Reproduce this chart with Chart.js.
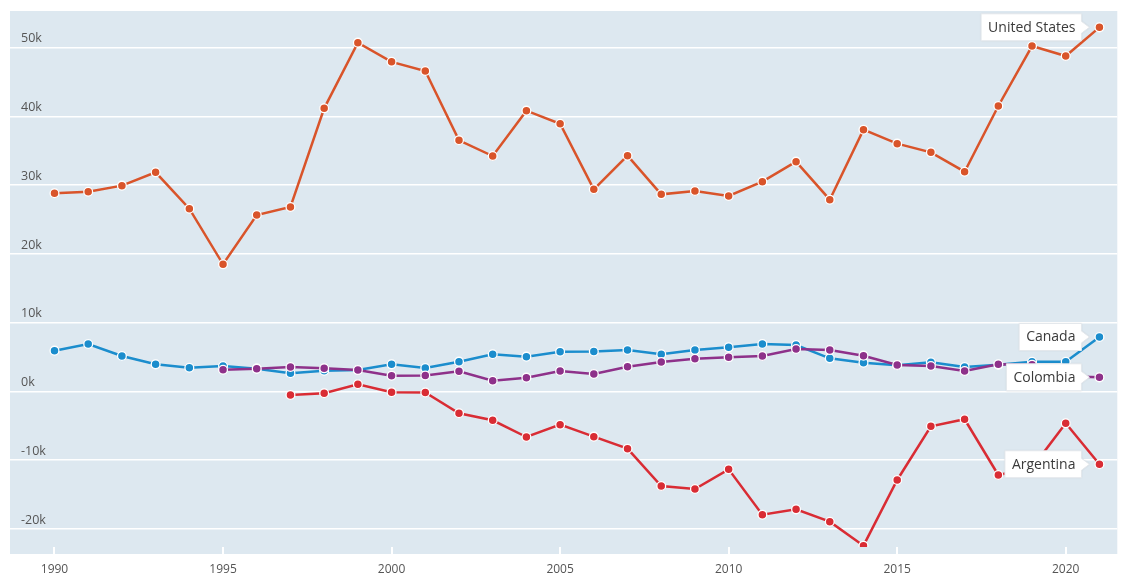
<!DOCTYPE html>
<html lang="en">
<head>
<meta charset="UTF-8">
<title>Net flows</title>
<script src="https://cdn.jsdelivr.net/npm/chart.js"></script>
<style>
  body { margin: 0; background: #fff; }
  #wrap { width: 1123px; height: 577px; position: relative; }
</style>
</head>
<body>
<div id="wrap"><canvas id="chart"></canvas></div>
<script>
// data
const years = [1990,1991,1992,1993,1994,1995,1996,1997,1998,1999,2000,2001,2002,2003,2004,2005,
               2006,2007,2008,2009,2010,2011,2012,2013,2014,2015,2016,2017,2018,2019,2020,2021];
const unitedStates = [28830,29060,29940,31880,26590,18500,25670,26840,41190,50740,47950,46620,36540,34250,40850,38950,
                      29410,34300,28680,29160,28440,30520,33430,27900,38080,36050,34790,31970,41530,50250,48800,52970];
const canada = [5940,6910,5160,3950,3460,3710,3320,2650,3030,3130,3950,3420,4340,5410,5070,5790,
                5820,6040,5410,6040,6420,6900,6760,4820,4190,3810,4250,3560,3900,4330,4330,7930];
const colombia = [null,null,null,null,null,3170,3320,3560,3370,3130,2300,2330,2940,1570,2010,2980,
                  2550,3610,4290,4770,4970,5160,6180,6040,5210,3850,3710,2980,3950,3900,2200,2060];
const argentina = [null,null,null,null,null,null,null,-510,-260,1050,-100,-150,-3170,-4190,-6620,-4830,
                   -6570,-8320,-13750,-14180,-11320,-17920,-17140,-18940,-22430,-12870,-5060,-4040,-12150,-11110,-4630,-10590];
const seriesNames = ['Argentina', 'Colombia', 'Canada', 'United States'];
const seriesValues = [argentina, colombia, canada, unitedStates];
const seriesColors = ['#d92c34', '#8e318a', '#1b8dcd', '#d9542a'];
const xTicks = [1990, 1995, 2000, 2005, 2010, 2015, 2020];
const yTicks = [-20000, -10000, 0, 10000, 20000, 30000, 40000, 50000];

const FONT = '"Open Sans", "Noto Sans", sans-serif';

const datasets = seriesNames.map((name, i) => ({
    label: name,
    data: years.map((yr, j) => ({ x: yr, y: seriesValues[i][j] })).filter(p => p.y !== null),
    borderColor: seriesColors[i],
    backgroundColor: seriesColors[i],
    borderWidth: 2.5,
    pointRadius: 4.4,
    pointBorderColor: '#ffffff',
    pointBorderWidth: 1.3,
    pointBackgroundColor: seriesColors[i],
    tension: 0,
    fill: false
}));

// light plot background, a little taller than the chart area so the x ticks sit on it
const plotBackground = {
    id: 'plotBackground',
    beforeDraw(chart) {
        const a = chart.chartArea;
        const ctx = chart.ctx;
        ctx.save();
        ctx.fillStyle = '#dde8f0';
        ctx.fillRect(a.left, a.top, a.right - a.left, a.bottom - a.top + 7);
        ctx.restore();
    }
};

// name callouts next to the last point of each line
const endLabels = {
    id: 'endLabels',
    afterDatasetsDraw(chart) {
        const ctx = chart.ctx;
        ctx.save();
        ctx.font = '14px ' + FONT;
        ctx.textBaseline = 'middle';
        chart.data.datasets.forEach((ds, i) => {
            const meta = chart.getDatasetMeta(i);
            const pt = meta.data[meta.data.length - 1];
            const w = ctx.measureText(ds.label).width + 13;
            const h = 27;
            const right = pt.x - 18;
            const left = right - w;
            const top = pt.y - h / 2;
            ctx.shadowColor = 'rgba(0,0,0,0.12)';
            ctx.shadowBlur = 2;
            ctx.fillStyle = '#ffffff';
            ctx.beginPath();
            ctx.moveTo(left, top);
            ctx.lineTo(right, top);
            ctx.lineTo(right, pt.y - 6);
            ctx.lineTo(right + 8, pt.y);
            ctx.lineTo(right, pt.y + 6);
            ctx.lineTo(right, top + h);
            ctx.lineTo(left, top + h);
            ctx.closePath();
            ctx.fill();
            ctx.shadowColor = 'transparent';
            ctx.strokeStyle = '#e4e8ec';
            ctx.lineWidth = 1;
            ctx.stroke();
            ctx.fillStyle = '#3a3a3a';
            ctx.textAlign = 'left';
            ctx.fillText(ds.label, left + 7, pt.y + 0.5);
        });
        ctx.restore();
    }
};

new Chart(document.getElementById('chart'), {
    type: 'line',
    data: { datasets: datasets },
    options: {
        responsive: true,
        maintainAspectRatio: false,
        animation: false,
        events: [],
        layout: { padding: { left: 10, right: 1, top: 11, bottom: 0 } },
        plugins: {
            legend: { display: false },
            tooltip: { enabled: false }
        },
        scales: {
            x: {
                type: 'linear',
                min: 1988.68,
                max: 2021.53,
                afterBuildTicks: scale => { scale.ticks = xTicks.map(v => ({ value: v })); },
                afterFit: scale => {
                    scale.height = 30;
                    scale.paddingLeft = 0;
                    scale.paddingRight = 0;
                },
                border: { display: false },
                grid: { drawOnChartArea: false, drawTicks: true, tickLength: 7, color: '#ffffff', lineWidth: 2 },
                ticks: {
                    callback: v => String(v),
                    color: '#555',
                    font: { family: FONT, size: 12 },
                    padding: 8,
                    maxRotation: 0
                }
            },
            y: {
                min: -22620,
                max: 55345,
                afterBuildTicks: scale => { scale.ticks = yTicks.map(v => ({ value: v })); },
                afterFit: scale => {
                    scale.width = 0;
                    scale.paddingTop = 0;
                    scale.paddingBottom = 0;
                },
                border: { display: false },
                grid: { color: '#ffffff', lineWidth: 1.5, drawTicks: false },
                ticks: {
                    mirror: true,
                    padding: 11,
                    labelOffset: -9,
                    callback: v => (v / 1000) + 'k',
                    color: '#555',
                    font: { family: FONT, size: 12.5 }
                }
            }
        }
    },
    plugins: [plotBackground, endLabels]
});
</script>
</body>
</html>
